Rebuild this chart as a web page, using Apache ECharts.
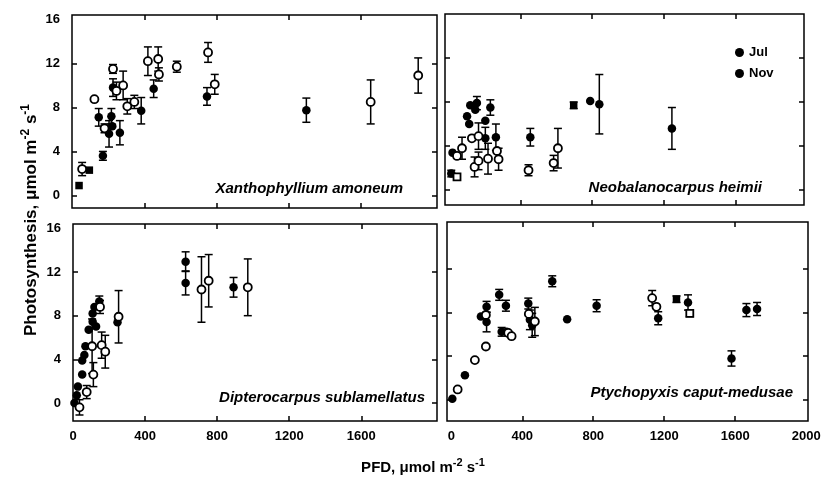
<!DOCTYPE html>
<html><head><meta charset="utf-8">
<script src="https://cdn.jsdelivr.net/npm/echarts@6/dist/echarts.min.js"></script>
<style>html,body{margin:0;padding:0;background:#fff}#c{width:827px;height:477px}</style>
</head><body><div id="c"></div>
<script>
// ---- data: [PFD, photosynthesis, error] ----
const speciesNames = ['Xanthophyllium amoneum', 'Neobalanocarpus heimii', 'Dipterocarpus sublamellatus', 'Ptychopyxis caput-medusae'];
const xTickValues = [400, 800, 1200, 1600];
const xLabelsLeft = [0, 400, 800, 1200, 1600];
const xLabelsRight = [0, 400, 800, 1200, 1600, 2000];
const yTickValues = [0, 4, 8, 12];
const yLabels = [0, 4, 8, 12, 16];

const xanJul = [[148,7.1,0.8],[171,3.6,0.4],[205,5.6,1.2],[218,7.2,0.7],[223,6.3,0],[227,9.8,0.8],[265,5.7,1.1],[383,7.7,1.2],[452,9.7,0.8],[747,9.0,0.8],[1297,7.75,1.1]];
const xanJulSq = [[39,0.9,0],[96,2.3,0]];
const xanNov = [[56,2.4,0.6],[124,8.75,0],[180,6.1,0.4],[227,11.5,0.4],[246,9.5,0.8],[283,10.0,1.3],[306,8.1,0.7],[345,8.5,0.6],[420,12.2,1.3],[477,12.4,1.1],[481,11.0,0.6],[580,11.7,0.5],[753,13.0,0.9],[790,10.1,0.9],[1653,8.5,2.0],[1916,10.9,1.6]];
const xanNovSq = [];

const neoJul = [[15,1.5,0.3],[22,3.4,0],[103,6.7,0],[115,6.0,0],[121,7.7,0],[149,7.3,0],[158,7.9,0.6],[233,7.5,0.7],[205,6.3,0],[205,4.7,1.0],[264,4.8,1.2],[456,4.8,0.8],[790,8.1,0],[841,7.8,2.7],[1246,5.6,1.9]];
const neoJulSq = [[698,7.7,0.3]];
const neoNov = [[47,3.1,0],[75,3.8,1.0],[130,4.7,0],[167,4.9,1.2],[145,2.1,0.9],[167,2.65,0.8],[220,2.85,1.4],[270,3.55,0],[279,2.8,1.0],[446,1.8,0.5],[586,2.45,0.7],[610,3.8,1.8]];
const neoNovSq = [[47,1.2,0.2]];

const dipJul = [[8,0,0],[21,0.7,0],[27,1.5,0],[51,2.6,0],[51,3.9,0],[63,4.4,0],[69,5.2,0],[87,6.7,0],[109,7.45,0],[109,8.2,0],[119,8.8,0],[146,9.3,0.5],[128,7.0,0],[247,7.4,0],[625,12.95,0.9],[625,11.0,1.1],[891,10.6,0.9]];
const dipJulSq = [];
const dipNov = [[36,-0.4,0.7],[76,1.0,0.6],[113,2.6,1.1],[106,5.2,2.5],[150,8.8,0.6],[159,5.3,1.2],[179,4.7,1.5],[253,7.9,2.4],[713,10.4,3.0],[753,11.2,2.4],[970,10.6,2.6]];
const dipNovSq = [];

const ptyJul = [[6,0.05,0],[77,2.2,0],[167,7.6,0],[199,8.5,0.5],[199,7.1,0.9],[270,9.6,0.5],[308,8.6,0.5],[284,6.2,0.4],[312,6.2,0],[434,8.8,0.5],[443,7.3,0.9],[456,6.8,1.1],[569,10.85,0.5],[653,7.35,0],[819,8.6,0.55],[1166,7.45,0.6],[1334,8.9,0.7],[1579,3.75,0.7],[1663,8.2,0.6],[1723,8.3,0.6]];
const ptyJulSq = [[1269,9.2,0.3]];
const ptyNov = [[36,0.9,0],[133,3.6,0],[195,4.85,0],[195,7.75,0],[321,6.1,0],[340,5.8,0],[437,7.85,0],[471,7.15,1.3],[1132,9.3,0.7],[1156,8.5,0]];
const ptyNovSq = [[1344,7.9,0.3]];

// ---- layout ----
const FF = '"Liberation Sans", Arial, sans-serif';
const panels = [
  {grid:{left:72, top:15, width:365, height:193}, x:[0,2020], y:[-1.14,16.4], jul:xanJul, julSq:xanJulSq, nov:xanNov, novSq:xanNovSq, bottom:false, leftCol:true, name:[403,189]},
  {grid:{left:445, top:14, width:359, height:191}, x:[-20,1983], y:[-1.36,16.0], jul:neoJul, julSq:neoJulSq, nov:neoNov, novSq:neoNovSq, bottom:false, leftCol:false, name:[762,188]},
  {grid:{left:73, top:224, width:364, height:197}, x:[0,2020], y:[-1.65,16.4], jul:dipJul, julSq:dipJulSq, nov:dipNov, novSq:dipNovSq, bottom:true, leftCol:true, name:[425,398], xl:xLabelsLeft},
  {grid:{left:447, top:222, width:361, height:199}, x:[-24,2010], y:[-2.0,16.3], jul:ptyJul, julSq:ptyJulSq, nov:ptyNov, novSq:ptyNovSq, bottom:true, leftCol:false, name:[793,393], xl:xLabelsRight}
];

const tickStyle = {inside:true, length:5, lineStyle:{color:'#000', width:1.5}};
const labStyle = {color:'#000', fontWeight:'bold', fontSize:13, fontFamily:FF, formatter: v => String(v)};

function renderErr(params, api){
  const x = api.value(0), y = api.value(1), e = api.value(2);
  const t = api.coord([x, y + e]), b = api.coord([x, y - e]);
  const hw = 4;
  const st = {stroke:'#000', lineWidth:1.5};
  return {type:'group', children:[
    {type:'line', shape:{x1:t[0], y1:t[1], x2:b[0], y2:b[1]}, style:st},
    {type:'line', shape:{x1:t[0]-hw, y1:t[1], x2:t[0]+hw, y2:t[1]}, style:st},
    {type:'line', shape:{x1:b[0]-hw, y1:b[1], x2:b[0]+hw, y2:b[1]}, style:st}
  ]};
}

const grid = [], xAxis = [], yAxis = [], series = [], graphic = [];
panels.forEach((p, i) => {
  grid.push(Object.assign({show:true, borderColor:'#000', borderWidth:1.5, backgroundColor:'transparent'}, p.grid));
  const xb = xAxis.length;
  ['bottom','top'].forEach(pos => {
    const showLab = pos === 'bottom' && p.bottom;
    xAxis.push({gridIndex:i, type:'value', position:pos, min:p.x[0], max:p.x[1],
      axisLine:{show:false, onZero:false}, splitLine:{show:false},
      axisTick:Object.assign({customValues:xTickValues}, tickStyle),
      axisLabel:Object.assign({show:showLab, margin:9, customValues: p.xl || xLabelsLeft}, labStyle)});
  });
  const yb = yAxis.length;
  ['left','right'].forEach(pos => {
    const showLab = pos === 'left' && p.leftCol;
    yAxis.push({gridIndex:i, type:'value', position:pos, min:p.y[0], max:p.y[1],
      axisLine:{show:false, onZero:false}, splitLine:{show:false},
      axisTick:Object.assign({customValues:yTickValues}, tickStyle),
      axisLabel:Object.assign({show:showLab, margin:12, customValues:yLabels}, labStyle)});
  });
  const errData = [].concat(p.jul, p.julSq, p.nov, p.novSq).filter(d => d[2] > 0);
  series.push({type:'custom', xAxisIndex:xb, yAxisIndex:yb, data:errData, renderItem:renderErr, z:1, silent:true, encode:{x:0, y:1}});
  series.push({name:'Jul', type:'scatter', xAxisIndex:xb, yAxisIndex:yb, data:p.jul, symbol:'circle', symbolSize:8.5, itemStyle:{color:'#000', opacity:1}, z:3});
  series.push({name:'Jul', type:'scatter', xAxisIndex:xb, yAxisIndex:yb, data:p.julSq, symbol:'rect', symbolSize:7.5, itemStyle:{color:'#000', opacity:1}, z:3});
  series.push({name:'Nov', type:'scatter', xAxisIndex:xb, yAxisIndex:yb, data:p.nov, symbol:'circle', symbolSize:8, itemStyle:{color:'#fff', borderColor:'#000', borderWidth:1.8, opacity:1}, z:4});
  series.push({name:'Nov', type:'scatter', xAxisIndex:xb, yAxisIndex:yb, data:p.novSq, symbol:'rect', symbolSize:7, itemStyle:{color:'#fff', borderColor:'#000', borderWidth:1.8, opacity:1}, z:4});
  graphic.push({type:'text', x:p.name[0], y:p.name[1], z:10,
    style:{text:speciesNames[i], fill:'#000', font:'italic bold 15px ' + FF, textAlign:'right', textVerticalAlign:'middle'}});
});

const richT = {
  a:{fontSize:15, fontWeight:'bold', fontFamily:FF, fill:'#000', color:'#000', verticalAlign:'bottom'},
  s:{fontSize:11, fontWeight:'bold', fontFamily:FF, fill:'#000', color:'#000', verticalAlign:'top', padding:[0,0,7,0]}
};
graphic.push({type:'text', x:423, y:466, z:10,
  style:{text:'{a|PFD, μmol m}{s|-2}{a| s}{s|-1}', rich:richT, textAlign:'center', textVerticalAlign:'middle'}});
const richY = {
  a:{fontSize:17, fontWeight:'bold', fontFamily:FF, fill:'#000', color:'#000', verticalAlign:'bottom'},
  s:{fontSize:12, fontWeight:'bold', fontFamily:FF, fill:'#000', color:'#000', verticalAlign:'top', padding:[0,0,8,0]}
};
graphic.push({type:'text', x:30, y:220, rotation:Math.PI/2, z:10,
  style:{text:'{a|Photosynthesis, μmol m}{s|-2}{a| s}{s|-1}', rich:richY, textAlign:'center', textVerticalAlign:'middle'}});

const chart = echarts.init(document.getElementById('c'), null, {renderer:'canvas'});
chart.setOption({
  animation:false,
  backgroundColor:'#fff',
  grid, xAxis, yAxis, series, graphic,
  legend:{orient:'vertical', left:730, top:41, itemWidth:9, itemHeight:9, itemGap:8, selectedMode:false,
    data:[{name:'Jul', icon:'circle', itemStyle:{color:'#000', borderWidth:0}},
          {name:'Nov', icon:'circle', itemStyle:{color:'#000', borderWidth:0}}],
    textStyle:{color:'#000', fontWeight:'bold', fontSize:13, fontFamily:FF}}
});
</script>
</body></html>
